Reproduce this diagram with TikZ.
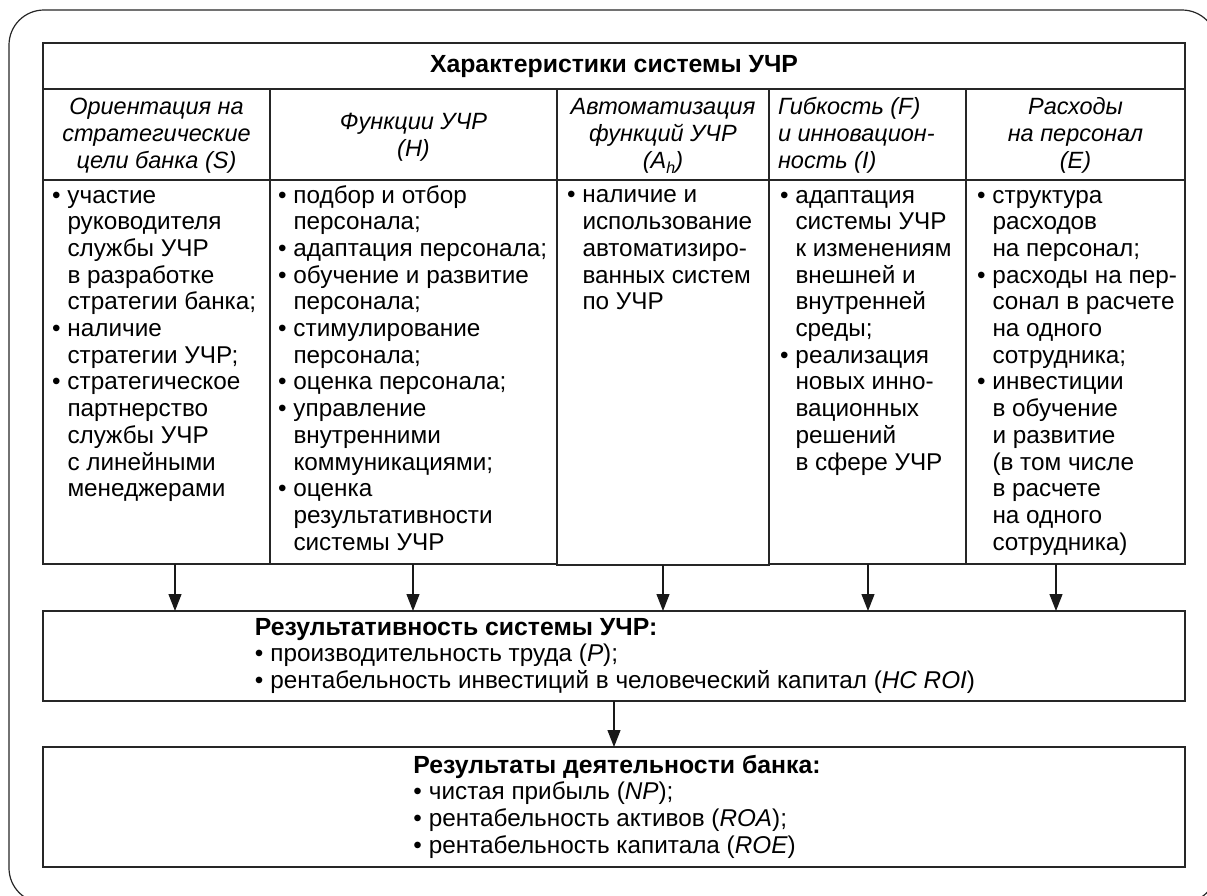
\documentclass[tikz,border=0pt]{standalone}
\usepackage{fontspec}
\setmainfont{Liberation Sans}
\usetikzlibrary{arrows.meta}
\newcommand\bul{\makebox[15.5pt][l]{\textbullet}}
\newcommand\ind{\hspace*{15.5pt}}
\newcommand\bhead[1]{{\fontsize{24.8}{26.7}\selectfont\bfseries #1}}
\begin{document}
\begin{tikzpicture}[x=1pt,y=-1pt,
  cell/.style={draw=black!85, line width=1.4pt, inner sep=0pt, outer sep=0pt, anchor=north west},
  txt/.style={inner sep=0pt, outer sep=0pt, font=\fontsize{24.3}{26.7}\selectfont},
  itxt/.style={inner sep=0pt, outer sep=0pt, font=\fontsize{23.5}{26.7}\selectfont\itshape},
  ltxt/.style={txt, anchor=north west, align=left},
  ctxt/.style={itxt, anchor=north, align=center},
  arr/.style={draw=black!90, line width=1.2pt, -{Triangle[length=17pt,width=13pt]}}]
\useasboundingbox (0,0) rectangle (1207,895);
% outer frame
\draw[black!85, line width=1.2pt, rounded corners=35pt] (9,10) rectangle (1217,903);
% header
\node[cell, minimum width=1142, minimum height=46] (hdr) at (43,43) {};
\node[txt, anchor=base] (hdrt) at (614,72) {\bhead{Характеристики системы УЧР}};
% subheader cells
\node[cell, minimum width=227, minimum height=91] (s1) at (43,89) {};
\node[cell, minimum width=287, minimum height=91] (s2) at (270,89) {};
\node[cell, minimum width=212, minimum height=91] (s3) at (557,89) {};
\node[cell, minimum width=197, minimum height=91] (s4) at (769,89) {};
\node[cell, minimum width=219, minimum height=91] (s5) at (966,89) {};
\draw[black!85, line width=2.4pt] (hdr.south west) -- (hdr.south east);
% body cells
\node[cell, minimum width=227, minimum height=384] (c1) at (43,180) {};
\node[cell, minimum width=287, minimum height=384] (c2) at (270,180) {};
\node[cell, minimum width=212, minimum height=385] (c3) at (557,180) {};
\node[cell, minimum width=197, minimum height=384] (c4) at (769,180) {};
\node[cell, minimum width=219, minimum height=384] (c5) at (966,180) {};
% subheader texts
\node[ctxt] (s1t) at (156.5,96.3) {\strut Ориентация на\\стратегические\\цели банка (S)};
\node[ctxt] (s2t) at (413.5,110.8) {\strut Функции УЧР\\(H)};
\node[ctxt] (s3t) at (663,96.3) {\strut Автоматизация\\функций УЧР\\(A\raisebox{-5pt}{\fontsize{16}{16}\selectfont\itshape h})};
\node[itxt, anchor=north west, align=left] (s4t) at (778,96.3) {\strut Гибкость (F)\\и инновацион-\\ность (I)};
\node[ctxt] (s5t) at (1075.5,96.3) {\strut Расходы\\на персонал\\(E)};
% body texts
\node[ltxt] (c1t) at (52,184.3) {\strut\bul участие\\
\ind руководителя\\
\ind службы УЧР\\
\ind в разработке\\
\ind стратегии банка;\\
\bul наличие\\
\ind стратегии УЧР;\\
\bul стратегическое\\
\ind партнерство\\
\ind службы УЧР\\
\ind с линейными\\
\ind менеджерами};
\node[ltxt] (c2t) at (278,184.3) {\strut\bul подбор и отбор\\
\ind персонала;\\
\bul адаптация персонала;\\
\bul обучение и развитие\\
\ind персонала;\\
\bul стимулирование\\
\ind персонала;\\
\bul оценка персонала;\\
\bul управление\\
\ind внутренними\\
\ind коммуникациями;\\
\bul оценка\\
\ind результативности\\
\ind системы УЧР};
\node[ltxt] (c3t) at (567,184.3) {\strut\bul наличие и\\
\ind использование\\
\ind автоматизиро-\\
\ind ванных систем\\
\ind по УЧР};
\node[ltxt] (c4t) at (780,184.3) {\strut\bul адаптация\\
\ind системы УЧР\\
\ind к изменениям\\
\ind внешней и\\
\ind внутренней\\
\ind среды;\\
\bul реализация\\
\ind новых инно-\\
\ind вационных\\
\ind решений\\
\ind в сфере УЧР};
\node[ltxt] (c5t) at (977,184.3) {\strut\bul структура\\
\ind расходов\\
\ind на персонал;\\
\bul расходы на пер-\\
\ind сонал в расчете\\
\ind на одного\\
\ind сотрудника;\\
\bul инвестиции\\
\ind в обучение\\
\ind и развитие\\
\ind (в том числе\\
\ind в расчете\\
\ind на одного\\
\ind сотрудника)};
% result boxes
\node[cell, minimum width=1142, minimum height=90] (res) at (43,611) {};
\node[cell, minimum width=1142, minimum height=120] (fin) at (43,747) {};
\node[txt, anchor=north, align=left] (rest) at (615,616.3) {\strut\bhead{Результативность системы УЧР:}\\
\bul производительность труда (\textit{P});\\
\bul рентабельность инвестиций в человеческий капитал (\textit{HC ROI})};
\node[txt, anchor=north, align=left] (fint) at (617,754.3) {\strut\bhead{Результаты деятельности банка:}\\
\bul чистая прибыль (\textit{NP});\\
\bul рентабельность активов (\textit{ROA});\\
\bul рентабельность капитала (\textit{ROE})};
% arrows
\draw[arr] ([xshift=18.5pt]c1.south) -- ([xshift=18.5pt]c1.south |- res.north);
\draw[arr] ([xshift=-0.5pt]c2.south) -- ([xshift=-0.5pt]c2.south |- res.north);
\draw[arr] (c3.south) -- (c3.south |- res.north);
\draw[arr] ([xshift=0.5pt]c4.south) -- ([xshift=0.5pt]c4.south |- res.north);
\draw[arr] ([xshift=-19.5pt]c5.south) -- ([xshift=-19.5pt]c5.south |- res.north);
\draw[arr] (res.south) -- (fin.north);
\end{tikzpicture}
\end{document}
